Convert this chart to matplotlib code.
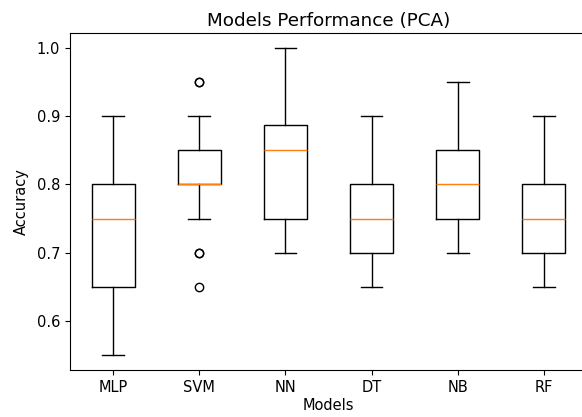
import matplotlib
matplotlib.use("Agg")
import matplotlib.pyplot as plt

models = ["MLP", "SVM", "NN", "DT", "NB", "RF"]

mlp = [0.55, 0.60, 0.65, 0.65, 0.75, 0.75, 0.80, 0.80, 0.85, 0.90]
svm = [0.65, 0.70, 0.70, 0.75, 0.80, 0.80, 0.80, 0.80, 0.80, 0.80,
       0.80, 0.85, 0.85, 0.85, 0.85, 0.85, 0.85, 0.90, 0.95, 0.95]
nn = [0.70, 0.75, 0.75, 0.75, 0.85, 0.85, 0.85, 0.90, 0.95, 1.00]
dt = [0.65, 0.70, 0.70, 0.70, 0.75, 0.75, 0.80, 0.80, 0.85, 0.90]
nb = [0.70, 0.75, 0.75, 0.75, 0.80, 0.80, 0.85, 0.85, 0.90, 0.95]
rf = [0.65, 0.70, 0.70, 0.70, 0.75, 0.75, 0.80, 0.80, 0.85, 0.90]

data = [mlp, svm, nn, dt, nb, rf]

DPI = 100
W, H = 582, 417
plt.rcParams['font.size'] = 10.5
plt.rcParams['axes.titlesize'] = 13.2
fig = plt.figure(figsize=(W / DPI, H / DPI), dpi=DPI)
ax = fig.add_axes([70 / W, 47 / H, 517 / W, 337 / H])
ax.boxplot(data, tick_labels=models)
ax.set_xlim(0.5, 6.5)
ax.spines['right'].set_visible(False)
ax.set_title("Models Performance (PCA)", pad=5)
ax.set_xlabel("Models", labelpad=2)
ax.set_ylabel("Accuracy", labelpad=6)

fig.savefig("out.png", dpi=DPI)
